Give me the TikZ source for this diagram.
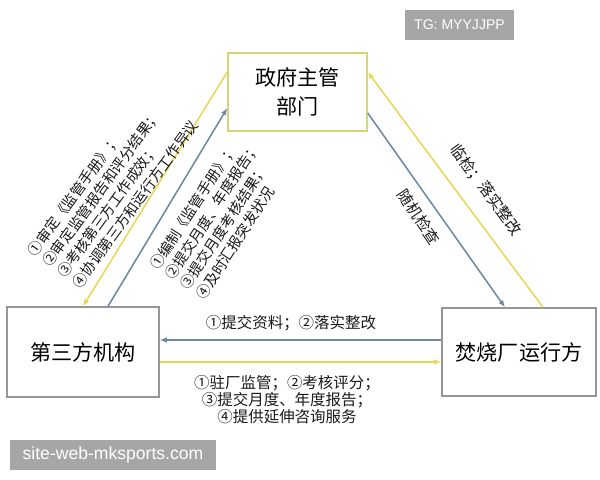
\documentclass[tikz,border=0pt]{standalone}
\usepackage{fontspec}
\setmainfont{Noto Sans CJK SC}
\newfontfamily\wmfont{Liberation Sans}
\usetikzlibrary{arrows.meta}
\definecolor{lineyellow}{RGB}{232,214,88}
\definecolor{lineblue}{RGB}{108,138,164}
\definecolor{govframe}{RGB}{214,214,118}
\definecolor{boxframe}{RGB}{150,150,150}
\definecolor{wmgray}{RGB}{166,166,166}

\begin{document}
\begin{tikzpicture}[x=0.025cm, y=0.025cm,
    partybox/.style={draw, line width=1pt, fill=white, inner sep=0pt, align=center, font={\fontsize{15}{20.5}\selectfont}},
    flow/.style={line width=1.1pt, -{Latex[length=5pt, width=4pt]}},
    note/.style={inner sep=0pt, text=black!90, font={\fontsize{11}{12.2}\selectfont}},
    slantnote/.style={note, align=left, font={\fontsize{10.3}{13}\selectfont}},
    wmbox/.style={fill=wmgray, text=white, minimum height=0.75cm, inner sep=0pt}]
    \useasboundingbox (0,0) rectangle (600,480);

    % the three parties
    \node [partybox, draw=govframe, minimum width=3.475cm, minimum height=1.95cm] (gov) at (297.5, 388) {政府主管\\部门};
    \node [partybox, draw=boxframe, minimum width=3.8cm, minimum height=2.25cm] (third) at (83, 128) {第三方机构};
    \node [partybox, draw=boxframe, minimum width=3.85cm, minimum height=2.2cm] (plant) at (519, 128) {焚烧厂运行方};

    % flows
    \draw [flow, lineyellow] ([yshift=0.5cm]gov.west) -- (third.north);
    \draw [flow, lineblue] ([xshift=0.625cm]third.north) -- ([yshift=-0.4cm]gov.west);
    \draw [flow, lineyellow] ([xshift=0.6cm]plant.north) -- ([yshift=0.5cm]gov.east);
    \draw [flow, lineblue] ([yshift=-0.525cm]gov.east) -- ([xshift=-0.35cm]plant.north);
    \draw [flow, lineblue] ([yshift=0.3cm]plant.west) -- ([yshift=0.3cm]third.east);
    \draw [flow, lineyellow] ([yshift=-0.25cm]third.east) -- ([yshift=-0.25cm]plant.west);

    % labels
    \node [slantnote, rotate=54] (govtasks) at (113, 292) {①审定《监管手册》；\\②审定监管报告和评分结果；\\③考核第三方工作成效；\\④协调第三方和运行方工作异议};
    \node [slantnote, rotate=57] (thirdtasks) at (220, 264) {①编制《监管手册》；\\②提交月度、年度报告；\\③提交月度考核结果；\\④及时汇报突发状况};
    \node [note, rotate=-53.5] (inspect) at (486, 290) {临检；落实整改};
    \node [note, rotate=-56] (random) at (419, 263) {随机检查};
    \node [note] (submit) at (291, 157) {①提交资料；②落实整改};
    \node [note, align=center] (service) at (287, 80) {①驻厂监管；②考核评分；\\③提交月度、年度报告；\\④提供延伸咨询服务};

    % watermarks
    \node [wmbox, minimum width=2.725cm, font={\wmfont\fontsize{10}{12}\selectfont}] (tg) at (459.5, 455) {TG: MYYJJPP};
    \node [wmbox, minimum width=5.15cm, font={\wmfont\fontsize{12.5}{14}\selectfont}] (site) at (113, 25) {site-web-mksports.com};
\end{tikzpicture}
\end{document}
